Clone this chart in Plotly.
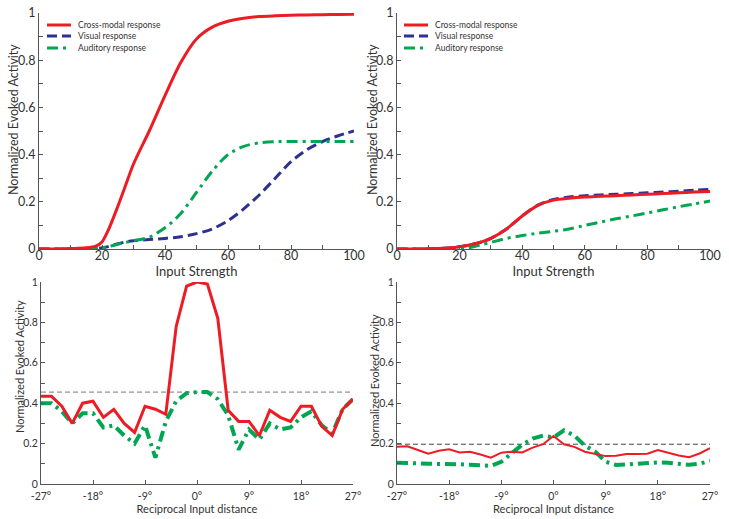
import plotly.graph_objects as go

# ---- top row: evoked activity vs input strength ----
strength = [0, 5, 10, 15, 18, 20, 22, 25, 27.5, 30, 35, 40, 45, 50, 55, 60,
            65, 70, 75, 80, 85, 90, 95, 100]

a_cross = [0, 0, 0.002, 0.005, 0.012, 0.03, 0.08, 0.18, 0.27, 0.36, 0.50, 0.65,
           0.79, 0.89, 0.94, 0.965, 0.978, 0.985, 0.988, 0.99, 0.992, 0.993,
           0.994, 0.995]
a_visual = [0, 0, 0, 0, 0.002, 0.005, 0.01, 0.022, 0.03, 0.035, 0.04, 0.045,
            0.052, 0.065, 0.085, 0.12, 0.17, 0.23, 0.30, 0.37, 0.42, 0.455,
            0.48, 0.50]
a_auditory = [0, 0, 0, 0, 0.002, 0.005, 0.01, 0.02, 0.028, 0.035, 0.05, 0.09,
              0.15, 0.24, 0.33, 0.40, 0.435, 0.45, 0.455, 0.455, 0.455, 0.455,
              0.455, 0.455]

b_cross = [0, 0, 0.001, 0.003, 0.006, 0.01, 0.014, 0.022, 0.032, 0.045, 0.085,
           0.14, 0.185, 0.207, 0.215, 0.22, 0.223, 0.226, 0.229, 0.232, 0.235,
           0.238, 0.241, 0.244]
b_visual = [0, 0, 0.001, 0.003, 0.006, 0.01, 0.014, 0.022, 0.032, 0.045, 0.085,
            0.14, 0.186, 0.21, 0.22, 0.226, 0.229, 0.232, 0.235, 0.238, 0.241,
            0.245, 0.249, 0.253]
b_auditory = [0, 0, 0, 0, 0, 0, 0.002, 0.012, 0.02, 0.028, 0.045, 0.057, 0.067,
              0.075, 0.085, 0.10, 0.114, 0.128, 0.14, 0.153, 0.166, 0.179,
              0.191, 0.203]

# ---- bottom row: activity vs reciprocal input distance (degrees) ----
distance = [-27, -25.2, -23.4, -21.6, -19.8, -18, -16.2, -14.4, -12.6, -10.8,
            -9, -7.2, -5.4, -3.6, -1.8, 0, 1.8, 3.6, 5.4, 7.2, 9, 10.8, 12.6,
            14.4, 16.2, 18, 19.8, 21.6, 23.4, 25.2, 27]

c_cross = [0.435, 0.435, 0.385, 0.30, 0.40, 0.41, 0.33, 0.37, 0.30, 0.255,
           0.385, 0.37, 0.345, 0.78, 0.98, 1.0, 0.99, 0.82, 0.365, 0.31, 0.31,
           0.24, 0.365, 0.33, 0.31, 0.385, 0.385, 0.285, 0.24, 0.37, 0.42]
c_auditory = [0.40, 0.40, 0.36, 0.30, 0.35, 0.35, 0.28, 0.29, 0.24, 0.20,
              0.29, 0.13, 0.31, 0.41, 0.45, 0.455, 0.455, 0.42, 0.34, 0.17,
              0.27, 0.22, 0.30, 0.27, 0.28, 0.33, 0.36, 0.29, 0.25, 0.37, 0.42]
c_level = 0.455

d_cross = [0.184, 0.187, 0.168, 0.15, 0.165, 0.172, 0.156, 0.16, 0.146, 0.13,
           0.155, 0.16, 0.156, 0.18, 0.197, 0.238, 0.197, 0.184, 0.16, 0.148,
           0.138, 0.14, 0.148, 0.148, 0.15, 0.168, 0.156, 0.141, 0.133, 0.151,
           0.177]
d_auditory = [0.105, 0.105, 0.102, 0.10, 0.10, 0.10, 0.098, 0.095, 0.093, 0.09,
              0.11, 0.15, 0.195, 0.225, 0.24, 0.23, 0.266, 0.24, 0.19, 0.16,
              0.11, 0.094, 0.098, 0.10, 0.104, 0.107, 0.105, 0.10, 0.095, 0.10,
              0.115]
d_level = 0.197

deg_vals = [-27, -18, -9, 0, 9, 18, 27]
deg_text = ['-27°', '-18°', '-9°', '0°', '9°', '18°', '27°']

legend_names = ['Cross-modal response', 'Visual response', 'Auditory response']
y_label = 'Normalized Evoked Activity'

RED = '#ed1c24'
BLUE = '#2e3192'
GREEN = '#00a651'
AXIS = '#555555'
TXT = '#333333'
FONT = 'Lato'

W, H = 729, 519
DASH = '10px,5px'
DASHDOT = '11px,5px,3px,5px'

fig = go.Figure()


def add_line(x, y, color, width, dash, xa, ya, shape='spline'):
    fig.add_trace(go.Scatter(x=x, y=y, mode='lines', xaxis=xa, yaxis=ya,
                             line=dict(color=color, width=width, dash=dash,
                                       shape=shape, smoothing=0.8),
                             showlegend=False, hoverinfo='skip'))


# top-left
add_line(strength, a_visual, BLUE, 3, DASH, 'x', 'y')
add_line(strength, a_auditory, GREEN, 3, DASHDOT, 'x', 'y')
add_line(strength, a_cross, RED, 3, 'solid', 'x', 'y')
# top-right
add_line(strength, b_visual, BLUE, 3, DASH, 'x2', 'y2')
add_line(strength, b_auditory, GREEN, 3, DASHDOT, 'x2', 'y2')
add_line(strength, b_cross, RED, 3, 'solid', 'x2', 'y2')
# bottom-left
add_line([distance[0], distance[-1]], [c_level, c_level], '#777777', 1,
         '5px,3px', 'x3', 'y3', 'linear')
add_line(distance, c_auditory, GREEN, 4, DASHDOT, 'x3', 'y3', 'linear')
add_line(distance, c_cross, RED, 3, 'solid', 'x3', 'y3', 'linear')
# bottom-right
add_line([distance[0], distance[-1]], [d_level, d_level], '#444444', 1,
         '5px,3px', 'x4', 'y4', 'linear')
add_line(distance, d_auditory, GREEN, 4, DASHDOT, 'x4', 'y4', 'linear')
add_line(distance, d_cross, RED, 2, 'solid', 'x4', 'y4', 'linear')


def px_x(p):
    return p / W


def px_y(p):
    return 1 - p / H


def axis(dom, anchor, size, **kw):
    d = dict(domain=dom, anchor=anchor, showline=True, linecolor=AXIS,
             linewidth=1, ticks='inside', ticklen=4, tickcolor=AXIS,
             showgrid=False, zeroline=False, automargin=False,
             tickfont=dict(size=size, color=TXT, family=FONT),
             minor=dict(ticks='inside', ticklen=4, tickcolor=AXIS))
    d.update(kw)
    return d


top_y = [px_y(249), px_y(13)]
bot_y = [px_y(484), px_y(282)]
left_top = [px_x(39), px_x(354)]
right_x = [px_x(397), px_x(710)]
left_bot = [px_x(41), px_x(353)]

xtitle_big = dict(text='Input Strength', font=dict(size=13, color=TXT, family=FONT), standoff=0)
xtitle_small = dict(text='Reciprocal Input distance', font=dict(size=11, color=TXT, family=FONT), standoff=0)

fig.update_layout(
    width=W, height=H,
    margin=dict(l=0, r=0, t=0, b=0),
    paper_bgcolor='white', plot_bgcolor='white',
    font=dict(family=FONT, color=TXT),
    xaxis=axis(left_top, 'y', 12.5, range=[0, 100], dtick=20, title=xtitle_big,
               minor_dtick=10, ticklabelstandoff=-5),
    yaxis=axis(top_y, 'x', 12.5, range=[0, 1], dtick=0.2, minor_dtick=0.1),
    xaxis2=axis(right_x, 'y2', 12.5, range=[0, 100], dtick=20, title=xtitle_big,
                minor_dtick=10, ticklabelstandoff=-5),
    yaxis2=axis(top_y, 'x2', 12.5, range=[0, 1], dtick=0.2, minor_dtick=0.1),
    xaxis3=axis(left_bot, 'y3', 10.5, range=[-27, 27], tickvals=deg_vals,
                ticktext=deg_text, title=xtitle_small, ticklabelstandoff=2,
                minor=dict(ticks='')),
    yaxis3=axis(bot_y, 'x3', 10.5, range=[0, 1], dtick=0.2, minor_dtick=0.1),
    xaxis4=axis(right_x, 'y4', 10.5, range=[-27, 27], tickvals=deg_vals,
                ticktext=deg_text, title=xtitle_small, ticklabelstandoff=2,
                minor=dict(ticks='')),
    yaxis4=axis(bot_y, 'x4', 10.5, range=[0, 1], dtick=0.2, minor_dtick=0.1),
)

# y-axis titles (sit a little above the centre of each panel, as in the figure)
for xx, yy, sz in [(13, 120, 12.5), (372, 120, 12.5), (19, 367, 11), (374, 381, 11)]:
    fig.add_annotation(text=y_label, xref='paper', yref='paper',
                       x=px_x(xx), y=px_y(yy), textangle=-90, showarrow=False,
                       xanchor='center', yanchor='middle',
                       font=dict(size=sz, color=TXT, family=FONT))

# legends drawn as short line samples + labels inside the top panels
styles = [(RED, 'solid'), (BLUE, DASH), (GREEN, DASHDOT)]
rows = [25, 36, 48]
for x0, x1, tx in [(47, 71, 76), (404, 428, 433)]:
    for (col, dsh), yy, name in zip(styles, rows, legend_names):
        fig.add_shape(type='line', xref='paper', yref='paper',
                      x0=px_x(x0), x1=px_x(x1), y0=px_y(yy), y1=px_y(yy),
                      line=dict(color=col, width=3, dash=dsh))
        fig.add_annotation(text=name, xref='paper', yref='paper',
                           x=px_x(tx), y=px_y(yy), xanchor='left',
                           yanchor='middle', showarrow=False,
                           font=dict(size=8.5, color=TXT, family=FONT))

fig.write_html("out.html", config={'displayModeBar': False},
               post_script="document.body.style.margin='0';"
                           "document.body.style.overflow='hidden';")
